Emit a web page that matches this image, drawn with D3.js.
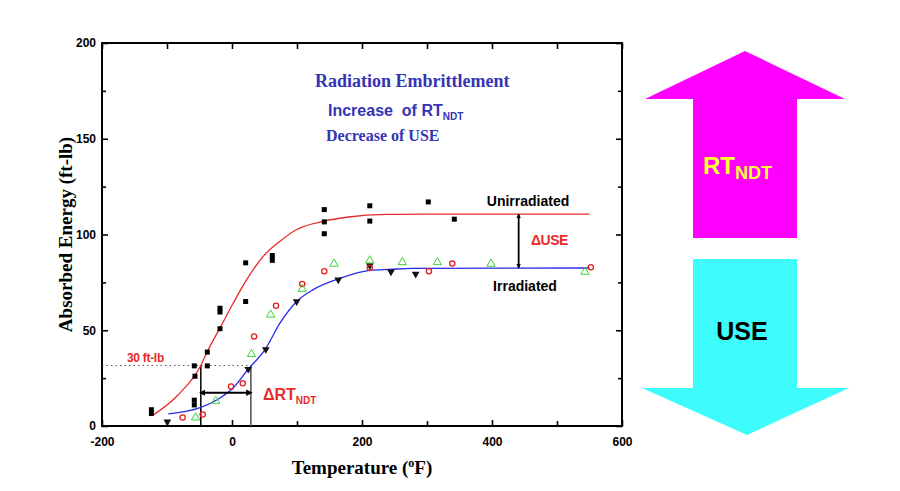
<!DOCTYPE html>
<html lang="en">
<head>
<meta charset="UTF-8">
<title>Radiation Embrittlement</title>
<script src="https://d3js.org/d3.v7.min.js"></script>
<style>
  body { margin: 0; background: #fff; }
  svg text { font-family: Arial, "Liberation Sans", sans-serif; }
  svg .serif { font-family: "Times New Roman", "Liberation Serif", serif; font-weight: bold; }
</style>
</head>
<body>
<svg id="chart" width="900" height="491"></svg>
<script>
// Data (temperature in F, absorbed energy in ft-lb)
const xTicks = [-200, 0, 200, 400, 600];
const xMinor = [-100, 100, 300, 500];
const yTicks = [0, 50, 100, 150, 200];
const yMinor = [25, 75, 125, 175];

// unirradiated specimens (filled squares)
const unirrT = [-124, -124, -58, -57, -58, -58, -38, -38, -18.5, -18.5, -18.5, 21, 21, 62, 62, 142, 142, 142, 212, 212, 302, 342];
const unirrE = [6.5, 8.5, 31.4, 26, 11, 13.5, 31.4, 38.6, 50.8, 59.5, 61.5, 85.2, 65, 86.5, 89, 113, 106.6, 100.4, 115, 107, 117, 108];

// irradiated specimens, three sets
const irrTriT = [-99.5, 25, 52, 99.5, 163.5, 212, 244.6, 282.6];
const irrTriE = [2.2, 29.7, 40, 65, 76.4, 83.8, 80.5, 79.4];
const irrCircT = [-76, -45, -1.5, 16.5, 34, 67.7, 108, 142, 212, 303, 339, 552];
const irrCircE = [4.4, 6, 20.6, 22.3, 46.8, 62.8, 74.2, 80.8, 82.6, 80.8, 84.8, 82.9];
const irrGreenT = [-56, -25, 30, 59.5, 108, 157, 212, 262, 316, 398.5, 543];
const irrGreenE = [4.4, 13.1, 37.5, 58.1, 71.6, 84.7, 86.4, 85.5, 85.5, 84.7, 80.5];

// fitted transition curves
const fitUnirrT = [-121, -83, -48, -38, -18.5, 2, 22.6, 48, 74, 99.5, 142, 176, 238, 300, 550];
const fitUnirrE = [5.8, 16.2, 31.6, 38.9, 51.2, 64.2, 76.4, 88.6, 96.5, 102.6, 107, 109, 110.5, 110.6, 110.6];
const fitIrrT = [-98, -49, -23.5, 2, 25, 51, 74, 99.5, 125, 163.5, 212, 243, 279, 550];
const fitIrrE = [6.3, 9.6, 13.6, 20, 29.7, 40, 53.8, 65, 71.2, 76.8, 81.3, 81.8, 82.3, 82.5];

// index values
const refEnergy = 31.6;          // "30 ft-lb" level
const t30Unirr = -48, t30Irr = 29;
const deltaRtEnergy = 17.4;
const useUnirr = 110.6, useIrr = 82.5, deltaUseT = 441;

const zip = (a, b) => a.map((v, i) => [v, b[i]]);

const svg = d3.select("#chart");
const x = d3.scaleLinear().domain([-200, 600]).range([102, 622]);
const y = d3.scaleLinear().domain([0, 200]).range([426, 43]);

const defs = svg.append("defs");
defs.append("marker").attr("id", "headH")
  .attr("viewBox", "0 0 10 10").attr("refX", 1).attr("refY", 5)
  .attr("markerWidth", 3.2).attr("markerHeight", 3.2)
  .attr("orient", "auto-start-reverse").attr("markerUnits", "strokeWidth")
  .append("path").attr("d", "M0,0 L10,5 L0,10 Z").attr("fill", "#000");
defs.append("marker").attr("id", "headV")
  .attr("viewBox", "0 0 10 10").attr("refX", 9).attr("refY", 5)
  .attr("markerWidth", 5).attr("markerHeight", 2.4)
  .attr("orient", "auto-start-reverse").attr("markerUnits", "strokeWidth")
  .append("path").attr("d", "M0,0 L10,5 L0,10 Z").attr("fill", "#000");

// axes with inward ticks on all four sides
const axG = svg.append("g").attr("font-weight", "bold");
axG.append("g").attr("transform", `translate(0,${y(0)})`)
  .call(d3.axisBottom(x).tickValues(xTicks).tickSize(-6).tickPadding(11).tickFormat(d => String(d)));
axG.append("g").attr("transform", `translate(0,${y(0)})`)
  .call(d3.axisBottom(x).tickValues(xMinor).tickSize(-5).tickFormat(""));
axG.append("g").attr("transform", `translate(0,${y(200)})`)
  .call(d3.axisTop(x).tickValues(xTicks.concat(xMinor)).tickSize(-6).tickFormat(""));
axG.append("g").attr("transform", `translate(${x(-200)},0)`)
  .call(d3.axisLeft(y).tickValues(yTicks).tickSize(-6).tickPadding(6).tickFormat(d => String(d)));
axG.append("g").attr("transform", `translate(${x(-200)},0)`)
  .call(d3.axisLeft(y).tickValues(yMinor).tickSize(-4).tickFormat(""));
axG.append("g").attr("transform", `translate(${x(600)},0)`)
  .call(d3.axisRight(y).tickValues(yTicks).tickSize(-6).tickFormat(""));
axG.append("g").attr("transform", `translate(${x(600)},0)`)
  .call(d3.axisRight(y).tickValues(yMinor).tickSize(-4).tickFormat(""));
axG.selectAll(".domain").remove();
axG.selectAll(".tick line").attr("stroke", "#000").attr("stroke-width", 1.6);
axG.selectAll(".tick text").attr("font-size", 12).attr("fill", "#000");
svg.append("rect")
  .attr("x", x(-200)).attr("y", y(200))
  .attr("width", x(600) - x(-200)).attr("height", y(0) - y(200))
  .attr("fill", "none").attr("stroke", "#000").attr("stroke-width", 2);

// axis titles
svg.append("text").attr("class", "serif")
  .attr("transform", `translate(72,${(y(0) + y(200)) / 2}) rotate(-90)`)
  .attr("text-anchor", "middle").attr("font-size", 19)
  .text("Absorbed Energy (ft-lb)");
const xt = svg.append("text").attr("class", "serif")
  .attr("x", (x(-200) + x(600)) / 2).attr("y", 474)
  .attr("text-anchor", "middle").attr("font-size", 19);
xt.append("tspan").text("Temperature (");
xt.append("tspan").attr("font-size", 12).attr("dy", -7).text("o");
xt.append("tspan").attr("dy", 7).text("F)");

// 30 ft-lb construction lines
svg.append("line")
  .attr("x1", x(-200)).attr("x2", x(t30Irr))
  .attr("y1", y(refEnergy)).attr("y2", y(refEnergy))
  .attr("stroke", "#555").attr("stroke-width", 1).attr("stroke-dasharray", "1.5,3");
svg.append("line")
  .attr("x1", x(t30Unirr)).attr("x2", x(t30Unirr))
  .attr("y1", y(refEnergy)).attr("y2", y(0))
  .attr("stroke", "#111").attr("stroke-width", 1.6);
svg.append("line")
  .attr("x1", x(t30Irr)).attr("x2", x(t30Irr))
  .attr("y1", y(refEnergy)).attr("y2", y(0))
  .attr("stroke", "#555").attr("stroke-width", 1.6);

// fitted curves
const line = d3.line().x(d => x(d[0])).y(d => y(d[1])).curve(d3.curveMonotoneX);
svg.append("path").datum(zip(fitUnirrT, fitUnirrE))
  .attr("d", line).attr("fill", "none").attr("stroke", "#e82a2a").attr("stroke-width", 1.3);
svg.append("path").datum(zip(fitIrrT, fitIrrE))
  .attr("d", line).attr("fill", "none").attr("stroke", "#2a2ae8").attr("stroke-width", 1.3);

// data points
svg.append("g").selectAll("rect").data(zip(unirrT, unirrE)).join("rect")
  .attr("x", d => x(d[0]) - 2.5).attr("y", d => y(d[1]) - 2.5)
  .attr("width", 5).attr("height", 5).attr("fill", "#000");
const triDown = d3.symbol().type(d3.symbolTriangle).size(26)();
svg.append("g").selectAll("path").data(zip(irrTriT, irrTriE)).join("path")
  .attr("d", triDown)
  .attr("transform", d => `translate(${x(d[0])},${y(d[1])}) rotate(180)`)
  .attr("fill", "#111");
svg.append("g").selectAll("circle").data(zip(irrCircT, irrCircE)).join("circle")
  .attr("cx", d => x(d[0])).attr("cy", d => y(d[1])).attr("r", 2.6)
  .attr("fill", "none").attr("stroke", "#e02020").attr("stroke-width", 1.3);
const triUp = d3.symbol().type(d3.symbolTriangle).size(30)();
svg.append("g").selectAll("path").data(zip(irrGreenT, irrGreenE)).join("path")
  .attr("d", triUp)
  .attr("transform", d => `translate(${x(d[0])},${y(d[1])})`)
  .attr("fill", "none").attr("stroke", "#3ad23a").attr("stroke-width", 1);

// delta RT arrow
svg.append("line")
  .attr("x1", x(t30Unirr) + 4).attr("x2", x(t30Irr) - 4)
  .attr("y1", y(deltaRtEnergy)).attr("y2", y(deltaRtEnergy))
  .attr("stroke", "#000").attr("stroke-width", 2)
  .attr("marker-start", "url(#headH)").attr("marker-end", "url(#headH)");
// delta USE arrow
svg.append("line")
  .attr("x1", x(deltaUseT)).attr("x2", x(deltaUseT))
  .attr("y1", y(useUnirr)).attr("y2", y(useIrr))
  .attr("stroke", "#000").attr("stroke-width", 1.8)
  .attr("marker-start", "url(#headV)").attr("marker-end", "url(#headV)");

// annotations
svg.append("text").attr("x", 127).attr("y", y(refEnergy) - 3)
  .attr("font-size", 12).attr("font-weight", "bold").attr("fill", "#e82a2a")
  .attr("letter-spacing", -0.3).text("30 ft-lb");
const drt = svg.append("text").attr("x", 263).attr("y", 400)
  .attr("font-size", 16).attr("font-weight", "bold").attr("fill", "#e82a2a");
drt.append("tspan").text("\u0394RT");
drt.append("tspan").attr("font-size", 10).attr("dy", 4).text("NDT");
svg.append("text").attr("x", 528).attr("y", 206).attr("text-anchor", "middle")
  .attr("font-size", 14).attr("font-weight", "bold").text("Unirradiated");
svg.append("text").attr("x", 525).attr("y", 291).attr("text-anchor", "middle")
  .attr("font-size", 14).attr("font-weight", "bold").text("Irradiated");
svg.append("text").attr("x", 531).attr("y", 245)
  .attr("font-size", 14).attr("font-weight", "bold").attr("fill", "#e82a2a")
  .attr("letter-spacing", -0.5).text("\u0394USE");

const blue = "#3434b4";
svg.append("text").attr("class", "serif").attr("x", 315).attr("y", 87)
  .attr("font-size", 18).attr("fill", blue).text("Radiation Embrittlement");
const inc = svg.append("text").attr("x", 328).attr("y", 116)
  .attr("font-size", 16).attr("font-weight", "bold").attr("fill", blue)
  .style("white-space", "pre");
inc.append("tspan").text("Increase  of RT");
inc.append("tspan").attr("font-size", 10).attr("dy", 4).text("NDT");
svg.append("text").attr("class", "serif").attr("x", 326).attr("y", 141)
  .attr("font-size", 16).attr("fill", blue).text("Decrease of USE");

// big arrows on the right
svg.append("path")
  .attr("d", "M745,51 L645,99 L693,99 L693,238 L797,238 L797,99 L845,99 Z")
  .attr("fill", "#ff00ff");
svg.append("path")
  .attr("d", "M693,259 L797,259 L797,388 L849,388 L747,435 L642,388 L693,388 Z")
  .attr("fill", "#3ffcfc");
const rt = svg.append("text").attr("x", 703).attr("y", 174)
  .attr("font-size", 24).attr("font-weight", "bold").attr("fill", "#ffff33");
rt.append("tspan").text("RT");
rt.append("tspan").attr("font-size", 18).attr("dy", 5).text("NDT");
svg.append("text").attr("x", 742).attr("y", 340).attr("text-anchor", "middle")
  .attr("font-size", 25).attr("font-weight", "bold").attr("fill", "#000").text("USE");
</script>
</body>
</html>
